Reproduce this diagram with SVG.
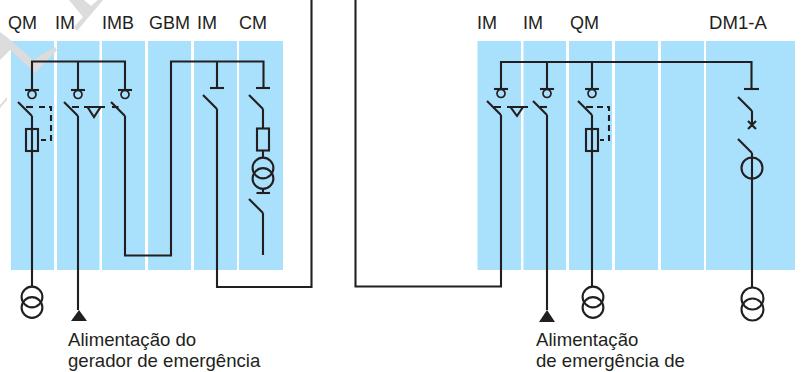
<svg xmlns="http://www.w3.org/2000/svg" width="802" height="372" viewBox="0 0 802 372">
<style>
.p{fill:#a9e0fb}
.w{fill:#dcdcdc}
.l,.l path,.l circle,.l rect{fill:none;stroke:#231f20;stroke-width:2.1}
.l circle.c{stroke-width:1.7}
.l path.d{stroke-dasharray:6 4}
.l path.a{fill:#231f20;stroke:none}
text{font-family:"Liberation Sans",Arial,sans-serif;font-size:18px;fill:#231f20}
.b{font-size:18.6px}
</style>
<defs>
<g id="tc" class="l"><path d="M-7 0H7"/><circle class="c" cy="4.500" r="4"/></g>
<g id="sw" class="l"><path d="M-14-14L0 0"/></g>
<g id="tr" class="l"><circle r="10.400" cy="-5"/><circle r="10.400" cy="5.500"/></g>
<g id="fu" class="l"><rect x="-6" y="0" width="12" height="22"/></g>
</defs>
<rect width="802" height="372" fill="#fff"/>
<g id="panels">
<rect class="p" x="11" y="41" width="43" height="229"/><rect class="p" x="57" y="41" width="42.500" height="229"/><rect class="p" x="102" y="41" width="43" height="229"/><rect class="p" x="148" y="41" width="43" height="229"/><rect class="p" x="194" y="41" width="43" height="229"/><rect class="p" x="239" y="41" width="44" height="229"/>
<rect class="p" x="477.500" y="41" width="43.500" height="229"/><rect class="p" x="523.500" y="41" width="42.500" height="229"/><rect class="p" x="569" y="41" width="43" height="229"/><rect class="p" x="615" y="41" width="43" height="229"/><rect class="p" x="661" y="41" width="43" height="229"/><rect class="p" x="706" y="41" width="89" height="229"/>
</g>
<g id="watermark">
<path class="w" d="M69 0H84L91 6L98 0H103L77 31L74 27L83 17Z"/>
<path class="w" d="M0 32L8 38L33 60L55 47L57 50L35 73L32 70L10 50L0 60Z"/>
<path class="w" d="M0 105L7 97L7 100L0 108Z"/>
</g>
<g id="connectors" class="l">
<path d="M32 90V61.500H125V90M78 61.500V90"/>
<path d="M32 116V286M78 116V310M125 116V255.500H171V61.500H263.500V88M217 61.500V88M217 109V287H311.500V0"/>
<path d="M355.500 0V286.500H501V115M501 89V62H751.500V89M547 62V89M592 62V89M547 115V310M592 115V286M752 111V127M752 153V287"/>
<path d="M263 109V128M263 151V157M263 189V193M263 213V255"/>
</g>
<g id="QM-1" class="l"><use href="#tc" x="32" y="90"/><use href="#sw" x="32" y="116"/><path d="M26 107H33"/><path class="d" d="M39 107H51V140H41"/><use href="#fu" x="32" y="129"/><use href="#tr" x="32" y="302"/></g>
<g id="IM-1" class="l"><use href="#tc" x="78" y="90"/><use href="#sw" x="78" y="116"/><path d="M72 107H79M84 107H105"/><path d="M87.500 107H100.500L94 117Z"/><path class="a" d="M79 310L87 321H71Z"/></g>
<g id="IMB" class="l"><use href="#tc" x="125" y="90"/><use href="#sw" x="125" y="116"/><path d="M112 107H118.500"/></g>
<g id="IM-2" class="l"><path d="M210 88H224"/><use href="#sw" x="217" y="109"/></g>
<g id="CM" class="l"><path d="M256 88H270"/><use href="#sw" x="263" y="109"/><use href="#fu" x="263" y="128.500"/><use href="#tr" x="263" y="173"/><path d="M256.500 193H270"/><use href="#sw" x="263" y="213"/></g>
<g id="IM-3" class="l"><use href="#tc" x="501" y="89"/><use href="#sw" x="501" y="115"/><path d="M494 107H501M507 107H528"/><path d="M510.500 107H523L517 116Z"/><use href="#tc" x="547" y="89"/><use href="#sw" x="547" y="115"/><path d="M540 107H547"/><path class="a" d="M547 310L555 322H539Z"/></g>
<g id="QM-2" class="l"><use href="#tc" x="592" y="89"/><use href="#sw" x="592" y="115"/><path d="M586 107H593"/><path class="d" d="M597 107H609V140H600"/><use href="#fu" x="592" y="129"/><use href="#tr" x="593" y="302"/></g>
<g id="DM1-A" class="l"><path d="M744 89H759"/><use href="#sw" x="752" y="111"/><path d="M748 121L756 129M756 121L748 129"/><use href="#sw" x="752" y="153"/><circle cx="752" cy="168" r="10.500"/><circle cx="752.500" cy="298.500" r="11"/><circle cx="752.500" cy="309.500" r="11"/></g>
<g id="labels">
<text x="8" y="29">QM</text><text x="55" y="29">IM</text><text x="102" y="29">IMB</text><text x="149" y="29">GBM</text><text x="197" y="29">IM</text><text x="239" y="29">CM</text>
<text x="477" y="29">IM</text><text x="523" y="29">IM</text><text x="570" y="29">QM</text><text class="b" x="709" y="29">DM1-A</text>
<text class="b" x="68" y="346">Alimentação do</text><text class="b" x="68" y="367">gerador de emergência</text>
<text class="b" x="536" y="346">Alimentação</text><text class="b" x="536" y="367">de emergência de</text>
</g>
</svg>
